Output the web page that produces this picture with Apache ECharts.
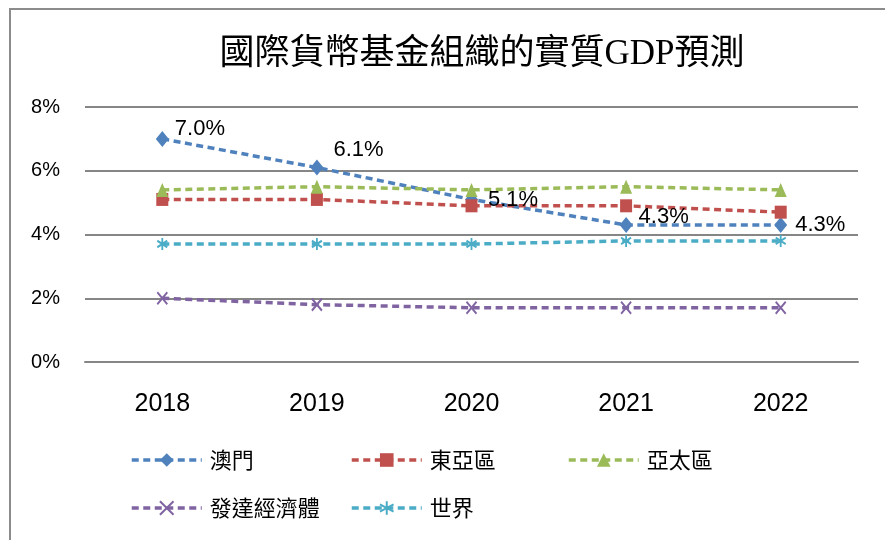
<!DOCTYPE html>
<html lang="zh-Hant">
  <head>
    <meta charset="utf-8" />
    <title>國際貨幣基金組織的實質GDP預測</title>
    <script src="https://cdn.jsdelivr.net/npm/echarts@6.0.0/dist/echarts.min.js"></script>
    <style>
      html, body { margin: 0; padding: 0; background: #fff; }
      #main { width: 885px; height: 540px; }
    </style>
  </head>
  <body>
    <div id="main"></div>
    <script>
      // data
      var years = ["2018", "2019", "2020", "2021", "2022"];
      var macau = [7.0, 6.1, 5.1, 4.3, 4.3];
      var eastAsia = [5.1, 5.1, 4.9, 4.9, 4.7];
      var asiaPacific = [5.4, 5.5, 5.4, 5.5, 5.4];
      var advanced = [2.0, 1.8, 1.7, 1.7, 1.7];
      var world = [3.7, 3.7, 3.7, 3.8, 3.8];
      var yTicks = [0, 2, 4, 6, 8];

      var chart = echarts.init(document.getElementById("main"));

      var axisGray = "#868686";
      var cjk = "'Noto Sans CJK TC', 'Noto Sans CJK SC', sans-serif";

      // label nudges for the 澳門 values
      var macauLabelOffset = [[0, -10], [4, -18], [4, 0], [0, -8], [2, 0]];

      function lineSeries(name, values, color, symbol, size, stroke) {
        return {
          name: name,
          type: "line",
          data: values,
          symbol: symbol,
          symbolSize: size,
          showAllSymbol: true,
          lineStyle: { color: color, width: 3.5, type: [7, 4.5] },
          itemStyle: {
            color: color,
            borderColor: color,
            borderWidth: stroke ? 2 : 0
          },
          emphasis: { disabled: true },
          animation: false
        };
      }

      var xPath = "path://M0,0L10,13M10,0L0,13";
      var starPath = "path://M5,0L5,13M0,3L10,10M0,10L10,3";

      var series = [
        lineSeries("澳門", macau, "#4F81BD", "diamond", [13, 16], false),
        lineSeries("東亞區", eastAsia, "#C0504D", "rect", [12, 13], false),
        lineSeries("亞太區", asiaPacific, "#9BBB59", "triangle", [12, 14], false),
        lineSeries("發達經濟體", advanced, "#8064A2", xPath, [10, 12], true),
        lineSeries("世界", world, "#4BACC6", starPath, [10, 12], true)
      ];

      series[0].data = macau.map(function (v, i) {
        return {
          value: v,
          label: { offset: macauLabelOffset[i] }
        };
      });
      series[0].label = {
        show: true,
        position: "right",
        distance: 6,
        color: "#000",
        fontSize: 22,
        fontFamily: "'Liberation Sans', sans-serif",
        formatter: function (p) { return p.value.toFixed(1) + "%"; }
      };

      var legendSpots = [
        { name: "澳門", left: 130, top: 449 },
        { name: "東亞區", left: 350, top: 449 },
        { name: "亞太區", left: 567, top: 449 },
        { name: "發達經濟體", left: 130, top: 497 },
        { name: "世界", left: 350, top: 497 }
      ];

      var legends = legendSpots.map(function (l) {
        return {
          data: [l.name],
          left: l.left,
          top: l.top,
          padding: 0,
          itemWidth: 70,
          itemHeight: 17,
          itemGap: 0,
          selectedMode: false,
          lineStyle: { width: 3.5 },
          textStyle: { fontSize: 22, color: "#000", fontFamily: cjk, padding: [0, 0, 0, 3] }
        };
      });

      var option = {
        backgroundColor: "#fff",
        animation: false,
        title: {
          text: "國際貨幣基金組織的實質GDP預測",
          left: 477,
          textAlign: "center",
          top: 32,
          textStyle: {
            fontSize: 35,
            fontWeight: "normal",
            color: "#000",
            fontFamily: "'Liberation Serif', 'Noto Sans CJK TC', serif"
          }
        },
        legend: legends,
        grid: { left: 85, right: 27, top: 107, bottom: 178 },
        xAxis: {
          type: "category",
          data: years,
          boundaryGap: true,
          axisLine: { show: true, lineStyle: { color: axisGray, width: 2 } },
          axisTick: { show: false },
          axisLabel: {
            margin: 30,
            fontSize: 25,
            color: "#000",
            fontFamily: "'Liberation Sans', sans-serif"
          }
        },
        yAxis: {
          type: "value",
          min: yTicks[0],
          max: yTicks[yTicks.length - 1],
          interval: 2,
          axisLine: { show: false },
          axisTick: { show: false },
          splitLine: { lineStyle: { color: axisGray, width: 2 } },
          axisLabel: {
            margin: 25,
            fontSize: 20,
            color: "#000",
            fontFamily: "'Liberation Sans', sans-serif",
            formatter: "{value}%"
          }
        },
        graphic: [
          {
            type: "rect",
            shape: { x: 10, y: 9, width: 900, height: 560 },
            style: { fill: "none", stroke: "#8c8c8c", lineWidth: 2 },
            silent: true
          }
        ],
        series: series
      };

      chart.setOption(option);
    </script>
  </body>
</html>
